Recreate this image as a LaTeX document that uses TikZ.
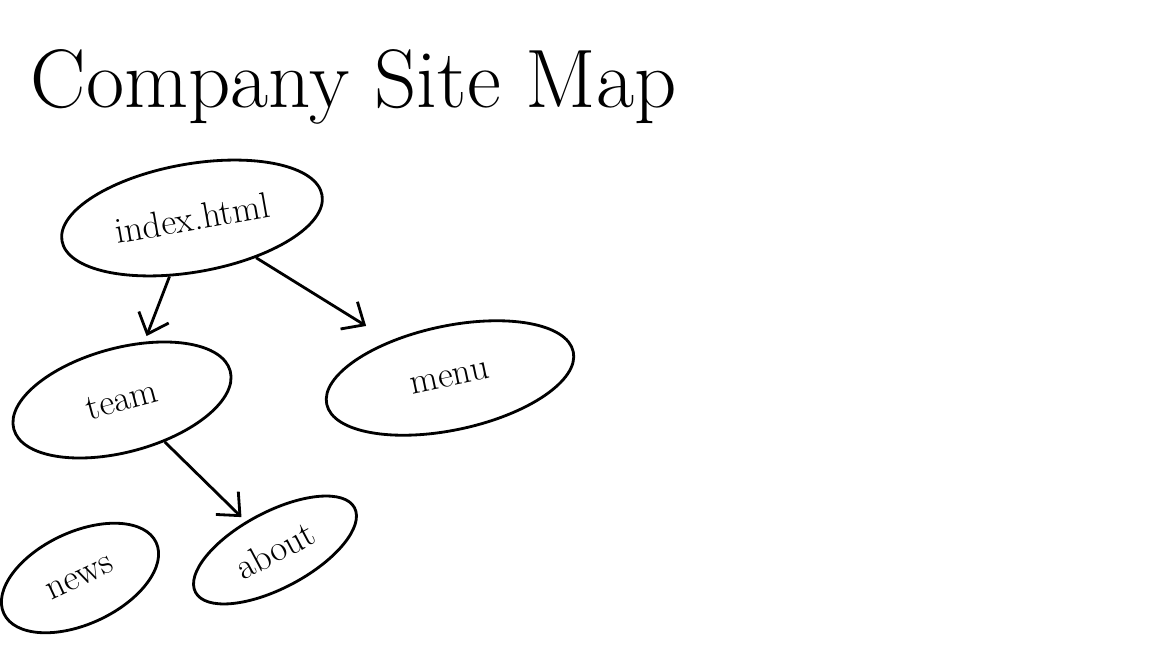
\documentclass[tikz,border=0pt]{standalone}
\usepackage{tikz}
\usetikzlibrary{shapes.geometric, arrows.meta}

\begin{document}
\begin{tikzpicture}[x = 0.025cm, y = -0.025cm]%
    %
    \tikzstyle{arrow} = [-{Straight Barb[length=0.45cm, width=0.8cm]}, draw = black, line width = 2pt, shorten > = 0.15cm]%
    \tikzstyle{page} = [ellipse, draw = black, line width = 2pt, inner sep = 0pt, font = \fontsize{26}{26}\selectfont]%
    %
    \useasboundingbox (0, 0) rectangle (1152, 648);%
    %
    \node [anchor = base west, font = \fontsize{59}{59}\selectfont] (title) at (26, 108) {Company Site Map};%
    %
    \node [page, minimum width = 6.6cm, minimum height = 2.7cm, rotate = 10] (index) at (192, 218) {index.html};%
    \node [page, minimum width = 5.6cm, minimum height = 2.6cm, rotate = 15] (team) at (122, 400) {team};%
    \node [page, minimum width = 6.3cm, minimum height = 2.6cm, rotate = 12] (menu) at (450, 378) {menu};%
    \node [page, minimum width = 4.2cm, minimum height = 2.3cm, rotate = 25] (news) at (80, 578) {news};%
    \node [page, minimum width = 4.5cm, minimum height = 1.9cm, rotate = 28] (about) at (275, 550) {about};%
    %
    \path [arrow] (index) -- (team);%
    \path [arrow, shorten > = 0.7cm] (index) -- (menu);%
    \path [arrow] (team) -- (about);%
    %
\end{tikzpicture}
\end{document}
